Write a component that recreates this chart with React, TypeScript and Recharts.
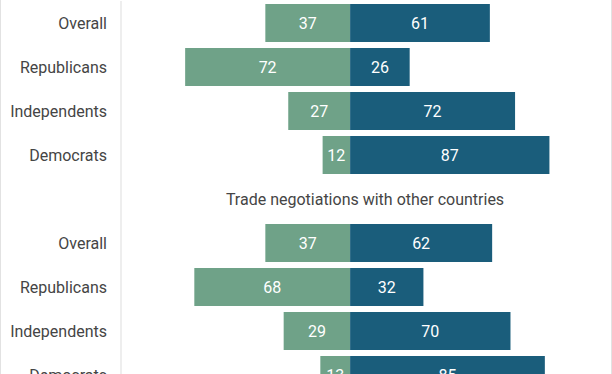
import React from "react";
import { BarChart, Bar, XAxis, YAxis, LabelList, ReferenceLine } from "recharts";

const groups = ["Overall", "Republicans", "Independents", "Democrats"];
const section1Oppose = [37, 72, 27, 12];
const section1Favor = [61, 26, 72, 87];
const section2Title = "Trade negotiations with other countries";
const section2Oppose = [37, 68, 29, 13];
const section2Favor = [62, 32, 70, 85];

const GREEN = "#6fa288";
const BLUE = "#1a5d7b";
const TEXT = "#454545";
const FONT = "Roboto, 'Noto Sans', sans-serif";

type Row = { key: string; label: string; oppose: number | null; favor: number | null };

const data: Row[] = [
  ...groups.map((g, i) => ({ key: `s1-${g}`, label: g, oppose: -section1Oppose[i], favor: section1Favor[i] })),
  { key: "title-2", label: "", oppose: null, favor: null },
  ...groups.map((g, i) => ({ key: `s2-${g}`, label: g, oppose: -section2Oppose[i], favor: section2Favor[i] })),
];

const labelMap: Record<string, string> = Object.fromEntries(data.map((d) => [d.key, d.label]));

const fmt = (v: any) => (v == null ? "" : String(Math.abs(Number(v))));

export default function App() {
  return (
    <div
      style={{
        position: "absolute",
        top: 0,
        left: 0,
        width: 612,
        height: 374,
        overflow: "hidden",
        boxSizing: "border-box",
        borderLeft: "1px solid #e2e2e2",
        borderRight: "1px solid #e2e2e2",
        background: "#fff",
        fontFamily: FONT,
      }}
    >
      <BarChart
        width={610}
        height={400}
        data={data}
        layout="vertical"
        stackOffset="sign"
        margin={{ top: 1, right: 2, bottom: 3, left: 0 }}
      >
        <XAxis type="number" hide domain={[-100, 113]} allowDataOverflow />
        <YAxis
          type="category"
          dataKey="key"
          width={120}
          axisLine={{ stroke: "#eeeeee", strokeWidth: 2 }}
          tickLine={false}
          tickSize={0}
          tickMargin={14}
          interval={0}
          tickFormatter={(k: string) => labelMap[k] ?? ""}
          tick={{ fill: TEXT, fontSize: 16, fontFamily: FONT }}
        />
        <ReferenceLine
          y="title-2"
          stroke="none"
          ifOverflow="visible"
          label={{ value: section2Title, position: "center", fill: TEXT, fontSize: 16, fontFamily: FONT }}
        />
        <Bar dataKey="oppose" stackId="a" fill={GREEN} barSize={38} isAnimationActive={false}>
          <LabelList dataKey="oppose" position="center" formatter={fmt} fill="#ffffff" fontSize={16} fontFamily={FONT} />
        </Bar>
        <Bar dataKey="favor" stackId="a" fill={BLUE} barSize={38} isAnimationActive={false}>
          <LabelList dataKey="favor" position="center" formatter={fmt} fill="#ffffff" fontSize={16} fontFamily={FONT} />
        </Bar>
      </BarChart>
    </div>
  );
}
